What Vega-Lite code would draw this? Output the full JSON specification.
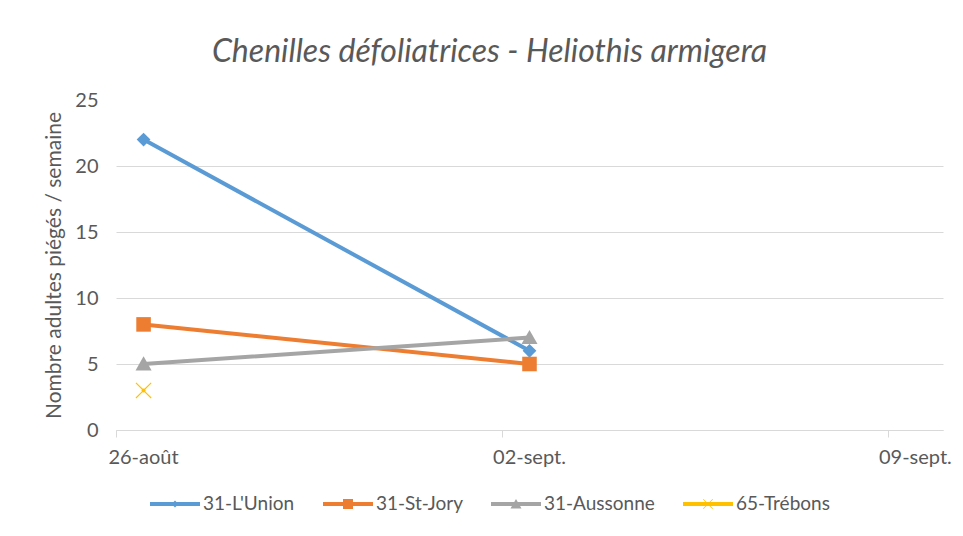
{
  "$schema": "https://vega.github.io/schema/vega-lite/v6.json",
  "width": 827,
  "height": 330,
  "autosize": {"type": "none"},
  "padding": {"left": 116, "top": 100, "right": 20, "bottom": 106},
  "background": "white",
  "title": {
    "text": "Chenilles défoliatrices - Heliothis armigera",
    "font": "Lato",
    "fontSize": 32,
    "fontStyle": "italic",
    "fontWeight": "normal",
    "color": "#595959",
    "anchor": "middle",
    "frame": "group",
    "dx": -40,
    "offset": 21
  },
  "config": {
    "font": "Lato",
    "view": {"stroke": null}
  },
  "data": {
    "values": [
      {"serie": "31-L'Union", "date": "2016-08-26T12:00:00Z", "value": 22},
      {"serie": "31-L'Union", "date": "2016-09-02T12:00:00Z", "value": 6},
      {"serie": "31-St-Jory", "date": "2016-08-26T12:00:00Z", "value": 8},
      {"serie": "31-St-Jory", "date": "2016-09-02T12:00:00Z", "value": 5},
      {"serie": "31-Aussonne", "date": "2016-08-26T12:00:00Z", "value": 5},
      {"serie": "31-Aussonne", "date": "2016-09-02T12:00:00Z", "value": 7},
      {"serie": "65-Trébons", "date": "2016-08-26T12:00:00Z", "value": 3}
    ]
  },
  "encoding": {
    "x": {
      "field": "date",
      "type": "temporal",
      "scale": {
        "type": "utc",
        "nice": false,
        "domain": [
          {"year": 2016, "month": 8, "date": 26, "utc": true},
          {"year": 2016, "month": 9, "date": 10, "utc": true}
        ]
      },
      "axis": {
        "title": null,
        "values": [
          {"year": 2016, "month": 8, "date": 26, "utc": true},
          {"year": 2016, "month": 9, "date": 2, "utc": true},
          {"year": 2016, "month": 9, "date": 9, "utc": true}
        ],
        "labelExpr": "utcFormat(datum.value, '%d') + '-' + (utcmonth(datum.value) == 7 ? 'août' : 'sept.')",
        "grid": false,
        "domainColor": "#d9d9d9",
        "domainWidth": 1,
        "tickColor": "#d9d9d9",
        "tickSize": 7,
        "labelColor": "#595959",
        "labelFontSize": 20,
        "labelOffset": 27,
        "labelPadding": 10,
        "labelFlush": false,
        "labelOverlap": false
      }
    },
    "y": {
      "field": "value",
      "type": "quantitative",
      "scale": {"domain": [0, 25], "nice": false},
      "axis": {
        "title": "Nombre adultes piégés / semaine",
        "titleFont": "Lato",
        "titleFontSize": 21,
        "titleFontWeight": "normal",
        "titleColor": "#595959",
        "titlePadding": 10,
        "values": [0, 5, 10, 15, 20, 25],
        "grid": true,
        "gridColor": "#d9d9d9",
        "gridWidth": 1,
        "gridOpacity": {"condition": {"test": "datum.value == 25", "value": 0}, "value": 1},
        "domain": false,
        "ticks": false,
        "labelColor": "#595959",
        "labelFontSize": 20,
        "labelPadding": 18
      }
    }
  },
  "layer": [
    {
      "mark": {"type": "line", "strokeWidth": 4, "strokeCap": "round", "strokeJoin": "round"},
      "encoding": {
        "color": {
          "field": "serie",
          "type": "nominal",
          "scale": {
            "domain": ["31-L'Union", "31-St-Jory", "31-Aussonne", "65-Trébons"],
            "range": ["#5B9BD5", "#ED7D31", "#A5A5A5", "#FFC000"]
          },
          "legend": null
        }
      }
    },
    {
      "mark": {"type": "point", "filled": true, "opacity": 1},
      "encoding": {
        "color": {
          "field": "serie",
          "type": "nominal",
          "scale": {
            "domain": ["31-L'Union", "31-St-Jory", "31-Aussonne", "65-Trébons"],
            "range": ["#5B9BD5", "#ED7D31", "#A5A5A5", "#FFC000"]
          },
          "legend": null
        },
        "shape": {
          "field": "serie",
          "type": "nominal",
          "scale": {
            "domain": ["31-L'Union", "31-St-Jory", "31-Aussonne", "65-Trébons"],
            "range": [
              "M0,-1L1,0L0,1L-1,0Z",
              "M-1,-1H1V1H-1Z",
              "M0,-1L1.05,0.85H-1.05Z",
              "M-1,-0.9L-0.9,-1L0,-0.1L0.9,-1L1,-0.9L0.1,0L1,0.9L0.9,1L0,0.1L-0.9,1L-1,0.9L-0.1,0Z"
            ]
          },
          "legend": null
        },
        "size": {
          "field": "serie",
          "type": "nominal",
          "scale": {
            "domain": ["31-L'Union", "31-St-Jory", "31-Aussonne", "65-Trébons"],
            "range": [190, 256, 260, 180]
          },
          "legend": null
        }
      }
    },
    {
      "data": {"values": []},
      "mark": {"type": "point", "filled": true, "opacity": 1},
      "encoding": {
        "x": {"field": "date", "type": "temporal"},
        "y": {"field": "value", "type": "quantitative"},
        "color": {
          "field": "serie",
          "type": "nominal",
          "scale": {
            "domain": ["31-L'Union", "31-St-Jory", "31-Aussonne", "65-Trébons"],
            "range": ["#5B9BD5", "#ED7D31", "#A5A5A5", "#FFC000"]
          },
          "legend": {
            "title": null,
            "orient": "none",
            "legendX": 34,
            "legendY": 379,
            "direction": "horizontal",
            "symbolSize": 2500,
            "symbolStrokeWidth": 0,
            "labelFontSize": 19,
            "labelColor": "#595959",
            "labelOffset": 3,
            "columnPadding": 28,
            "symbolOffset": 0
          }
        },
        "shape": {
          "field": "serie",
          "type": "nominal",
          "scale": {
            "domain": ["31-L'Union", "31-St-Jory", "31-Aussonne", "65-Trébons"],
            "range": [
              "M-1,-0.08H1V0.08H-1Z M0,-0.14L0.14,0L0,0.14L-0.14,0Z",
              "M-1,-0.08H1V0.08H-1Z M-0.2,-0.2H0.2V0.2H-0.2Z",
              "M-1,-0.08H1V0.08H-1Z M0,-0.2L0.22,0.18H-0.22Z",
              "M-1,-0.08H1V0.08H-1Z M-0.2,-0.18L-0.18,-0.2L0,-0.02L0.18,-0.2L0.2,-0.18L0.02,0L0.2,0.18L0.18,0.2L0,0.02L-0.18,0.2L-0.2,0.18L-0.02,0Z"
            ]
          },
          "legend": {
            "title": null,
            "orient": "none",
            "legendX": 34,
            "legendY": 379,
            "direction": "horizontal",
            "symbolSize": 2500,
            "symbolStrokeWidth": 0,
            "labelFontSize": 19,
            "labelColor": "#595959",
            "labelOffset": 3,
            "columnPadding": 28,
            "symbolOffset": 0
          }
        }
      }
    }
  ],
  "resolve": {"scale": {"color": "independent", "shape": "independent", "size": "independent"}}
}
